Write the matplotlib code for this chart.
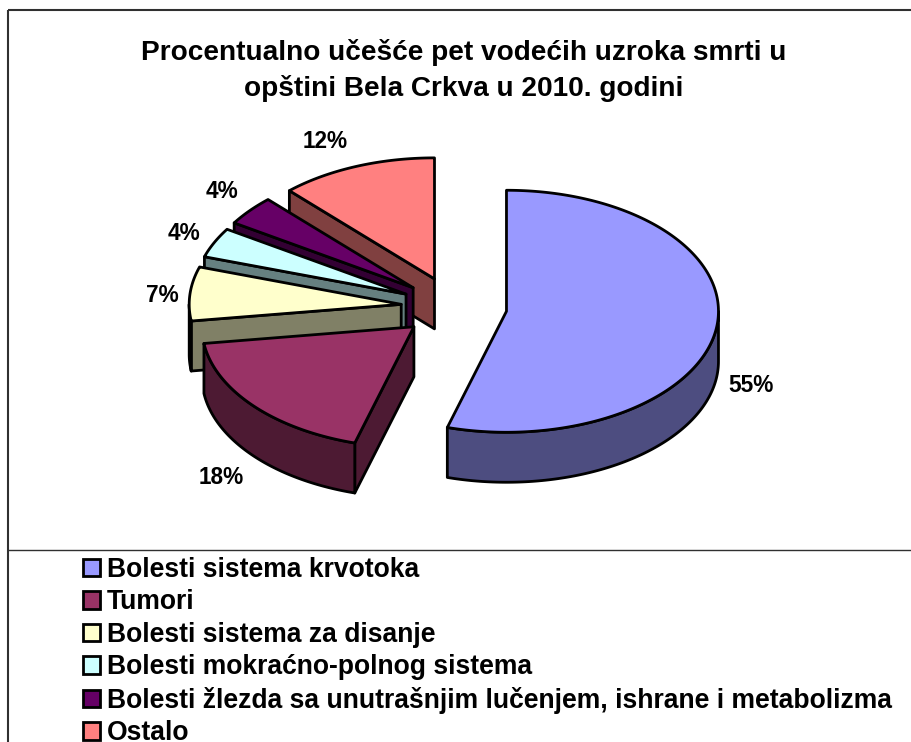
from matplotlib import pyplot as plt
from matplotlib.patches import Patch, Polygon
import numpy as np

title = 'Procentualno učešće pet vodećih uzroka smrti u\nopštini Bela Crkva u 2010. godini'
categories = ['Bolesti sistema krvotoka', 'Tumori', 'Bolesti sistema za disanje',
              'Bolesti mokraćno-polnog sistema',
              'Bolesti žlezda sa unutrašnjim lučenjem, ishrane i metabolizma', 'Ostalo']
values = [54.5, 18.3, 7.2, 4.0, 4.0, 12.0]
value_labels = ['55%', '18%', '7%', '4%', '4%', '12%']
top_colors = ['#9999FF', '#993366', '#FFFFCC', '#CCFFFF', '#660066', '#FF8080']
side_colors = ['#4D4D80', '#4D1A33', '#808066', '#668080', '#330033', '#804040']
label_pos = [(751, 386), (221, 477), (162, 295), (184, 234), (222, 192), (325, 142)]

CX, CY = 454, 307
RX, RY = 212, 121
DEPTH = 50
EXPLODE = 0.25
LW = 2.0


def point(theta, ox, oy, drop=0):
    """Screen position of a rim point, theta clockwise from the top."""
    return ox + RX * np.sin(theta), oy - RY * np.cos(theta) + drop


def shape(ax, xs, ys, color):
    ax.add_patch(Polygon(np.column_stack([xs, ys]), closed=True, facecolor=color,
                         edgecolor='black', linewidth=LW, joinstyle='round'))


def draw_slice(ax, start, end, top_color, side_color):
    mid = (start + end) / 2
    ox = CX + EXPLODE * RX * np.sin(mid)
    oy = CY - EXPLODE * RY * np.cos(mid)

    # only the cut faces turned to the viewer
    for edge, visible in ((start, np.sin(start) < -1e-9), (end, np.sin(end) > 1e-9)):
        if visible:
            ex, ey = point(edge, ox, oy)
            shape(ax, [ox, ex, ex, ox], [oy, ey, ey + DEPTH, oy + DEPTH], side_color)

    # rim, only the front half of the ellipse shows
    low, high = max(start, np.pi / 2), min(end, 3 * np.pi / 2)
    if low < high:
        t = np.linspace(low, high, 120)
        xs, ys = point(t, ox, oy)
        xb, yb = point(t[::-1], ox, oy, DEPTH)
        shape(ax, np.r_[xs, xb], np.r_[ys, yb], side_color)

    t = np.linspace(start, end, 200)
    xs, ys = point(t, ox, oy)
    shape(ax, np.r_[ox, xs], np.r_[oy, ys], top_color)


def main():
    fig = plt.figure(figsize=(9.11, 7.42), dpi=100)
    ax = fig.add_axes([0, 0, 1, 1])
    ax.set_xlim(0, 911)
    ax.set_ylim(742, 0)
    ax.axis('off')
    plt.rcParams['font.family'] = ['Liberation Sans', 'DejaVu Sans']

    # chart frame
    ax.plot([8, 8], [10, 742], color='#303030', lw=1.5, solid_capstyle='butt')
    ax.plot([8, 911], [10, 10], color='#303030', lw=1.5, solid_capstyle='butt')
    ax.plot([8, 911], [550, 550], color='#303030', lw=1.0, solid_capstyle='butt')

    edges = np.r_[0, np.cumsum(values)] / sum(values) * 2 * np.pi
    # back slices first, the big one last
    for i in [5, 4, 3, 2, 1, 0]:
        draw_slice(ax, edges[i], edges[i + 1], top_colors[i], side_colors[i])

    ax.text(463.5, 70.5, title, ha='center', va='center', fontsize=20.2, fontweight='bold',
            linespacing=1.39)
    for label, (x, y) in zip(value_labels, label_pos):
        ax.text(x, y, label, ha='center', va='center', fontsize=16.3, fontweight='bold')

    handles = [Patch(facecolor=c, edgecolor='black', linewidth=LW) for c in top_colors]
    ax.legend(handles, categories, loc='upper left', bbox_to_anchor=(83 / 911, 1 - 557 / 742),
              frameon=False, borderpad=0, borderaxespad=0, handlelength=0.64,
              handleheight=0.64, handletextpad=0.26, labelspacing=0.245,
              prop={'size': 19.1, 'weight': 'bold'})

    plt.savefig('out.png', dpi=100)


if __name__ == "__main__":
    main()
